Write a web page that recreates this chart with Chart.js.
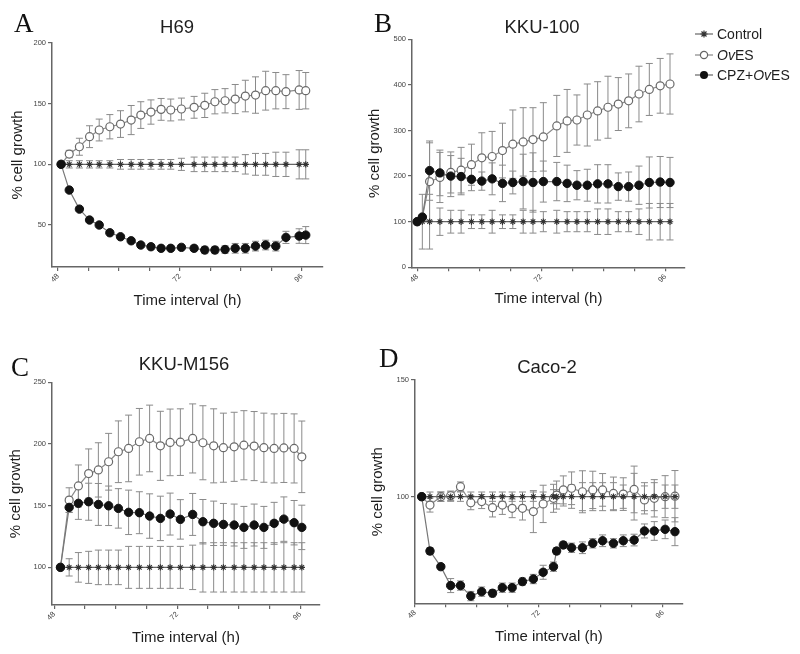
<!DOCTYPE html>
<html>
<head>
<meta charset="utf-8">
<script src="https://cdn.jsdelivr.net/npm/chart.js@4.4.0/dist/chart.umd.min.js"></script>
<style>
  body { margin: 0; background: #fff; }
  #page { position: relative; width: 800px; height: 654px; overflow: hidden; font-family: 'Liberation Sans', Arial, sans-serif; color: #1e1e1e; }
  canvas { position: absolute; }
  .letter { position: absolute; font-family: 'Liberation Serif', 'Times New Roman', serif; font-size: 27px; line-height: 27px; color: #111; }
  .ptitle { position: absolute; font-size: 18.5px; line-height: 1; transform: translate(-50%, -50%); white-space: nowrap; }
  .legend-row { position: absolute; left: 695px; height: 16px; display: flex; align-items: center; font-size: 14px; white-space: nowrap; }
  .legend-row svg { margin-right: 4px; }
</style>
</head>
<body>
<div id="page">
  <canvas id="chartA" width="355" height="320" style="left:0;top:0"></canvas>
  <canvas id="chartB" width="365" height="320" style="left:360px;top:0"></canvas>
  <canvas id="chartC" width="368" height="324" style="left:0;top:330px"></canvas>
  <canvas id="chartD" width="374" height="324" style="left:360px;top:330px"></canvas>

  <div class="letter" style="left:14px;top:10px">A</div>
  <div class="letter" style="left:374px;top:10px">B</div>
  <div class="letter" style="left:11px;top:354px">C</div>
  <div class="letter" style="left:379px;top:345px">D</div>

  <div class="ptitle" style="left:177px;top:27px">H69</div>
  <div class="ptitle" style="left:542px;top:27px">KKU-100</div>
  <div class="ptitle" style="left:184px;top:364px">KKU-M156</div>
  <div class="ptitle" style="left:547px;top:367px">Caco-2</div>

  <div class="legend-row" style="top:26px">
    <svg width="18" height="10"><line x1="0" y1="5" x2="18" y2="5" stroke="#666" stroke-width="1.2"/><path d="M9 1.5V8.5M5.5 5H12.5M6.5 2.5L11.5 7.5M11.5 2.5L6.5 7.5" stroke="#333" stroke-width="1.2"/></svg>
    <span>Control</span>
  </div>
  <div class="legend-row" style="top:47px">
    <svg width="18" height="10"><line x1="0" y1="5" x2="18" y2="5" stroke="#888" stroke-width="1.2"/><circle cx="9" cy="5" r="3.6" fill="#fff" stroke="#666" stroke-width="1.2"/></svg>
    <span><i>Ov</i>ES</span>
  </div>
  <div class="legend-row" style="top:67px">
    <svg width="18" height="10"><line x1="0" y1="5" x2="18" y2="5" stroke="#666" stroke-width="1.2"/><circle cx="9" cy="5" r="4" fill="#111"/></svg>
    <span>CPZ+<i>Ov</i>ES</span>
  </div>
</div>

<script>
// shared axis ticks (hours)
const xTickValues = [48, 54, 60, 66, 72, 78, 84, 90, 96];
const xTickLabels = [48, 72, 96];

// ---- A: H69 ----
const timesA = [48.6, 50.2, 52.2, 54.2, 56.1, 58.2, 60.3, 62.4, 64.3, 66.3, 68.3, 70.2, 72.3, 74.8, 76.9, 78.9, 80.9, 82.9, 84.9, 86.9, 88.9, 90.9, 92.9, 95.5, 96.8];
const controlA = [100, 100, 100, 100, 100, 100, 100, 100, 100, 100, 100, 100, 100, 100, 100, 100, 100, 100, 100, 100, 100, 100, 100, 100, 100];
const controlErrA = [0, 3, 3, 3, 3, 3, 4, 4, 4, 4, 4, 4, 5, 6, 6, 6, 6, 6, 8, 9, 9, 10, 10, 12, 12];
const ovesA = [100, 108.5, 114.5, 122.8, 128.3, 131, 133.2, 136.5, 140.6, 143.1, 145.3, 144.8, 145.6, 147, 148.6, 151.6, 152.4, 153.8, 156.3, 157.1, 160.7, 160.7, 159.9, 161.3, 160.7];
const ovesErrA = [0, 3, 7, 9, 9, 10, 11, 12, 11, 10, 9, 9, 9, 9, 10, 10, 10, 12, 13, 15, 16, 15, 14, 16, 15];
const cpzA = [100, 78.8, 63.1, 54.1, 50, 43.6, 40.3, 37, 33.5, 32.1, 30.8, 30.8, 31.6, 30.8, 29.4, 29.4, 29.8, 30.8, 30.8, 32.6, 33.5, 32.6, 39.8, 40.9, 41.7];
const cpzErrA = [0, 0, 0, 0, 0, 0, 0, 0, 1, 2, 1, 1, 2, 2, 3, 3, 3, 4, 4, 4, 4, 4, 5, 6, 7];
const yTicksA = [50, 100, 150, 200];

// ---- B: KKU-100 ----
const timesB = [48, 49, 50.4, 52.4, 54.5, 56.5, 58.5, 60.5, 62.5, 64.5, 66.5, 68.5, 70.4, 72.4, 75, 77, 78.9, 80.9, 82.9, 84.9, 86.9, 88.9, 90.9, 92.9, 95, 96.9];
const controlB = [100, 100, 100, 100, 100, 100, 100, 100, 100, 100, 100, 100, 100, 100, 100, 100, 100, 100, 100, 100, 100, 100, 100, 100, 100, 100];
const controlErrB = [0, 60, 60, 30, 25, 25, 15, 15, 25, 15, 15, 25, 25, 22, 25, 22, 22, 22, 28, 28, 22, 22, 28, 40, 40, 40];
const ovesB = [100, 110, 188, 197, 208, 213, 225, 240, 243, 256, 270, 275, 280, 286, 310, 321, 323, 334, 343, 351, 358, 365, 380, 390, 398, 402];
const ovesErrB = [0, 0, 85, 55, 45, 50, 45, 55, 55, 60, 75, 75, 70, 75, 67, 69, 55, 68, 64, 68, 58, 59, 61, 57, 60, 66];
const cpzB = [100, 110, 212, 207, 200, 199, 193, 189, 194, 184, 186, 188, 186, 188, 188, 184, 180, 180, 183, 183, 177, 177, 180, 186, 187, 186];
const cpzErrB = [0, 0, 65, 50, 45, 40, 25, 20, 35, 40, 25, 60, 65, 45, 42, 40, 32, 35, 42, 42, 30, 32, 42, 56, 56, 55];
const yTicksB = [0, 100, 200, 300, 400, 500];

// ---- C: KKU-M156 ----
const timesC = [49.2, 50.9, 52.7, 54.7, 56.6, 58.6, 60.5, 62.5, 64.6, 66.6, 68.7, 70.6, 72.6, 75.0, 77.0, 79.1, 81.0, 83.1, 85.0, 87.0, 88.9, 90.9, 92.8, 94.8, 96.3];
const controlC = [100, 100, 100, 100, 100, 100, 100, 100, 100, 100, 100, 100, 100, 100, 100, 100, 100, 100, 100, 100, 100, 100, 100, 100, 100];
const controlErrC = [0, 7, 12, 13, 14, 14, 14, 17, 17, 17, 17, 17, 17, 18, 20, 20, 20, 20, 20, 20, 20, 20, 20, 20, 20];
const ovesC = [100, 154.5, 166, 176, 179, 185.6, 193.7, 196.4, 201.8, 204.5, 198.5, 201.3, 201.5, 204.5, 201, 198.5, 197, 197.7, 199, 198.3, 197, 196.4, 196.8, 196.4, 189.6];
const ovesErrC = [0, 10, 17, 20, 22, 23, 25, 27, 27, 27, 28, 27, 27, 28, 30, 30, 28, 28, 28, 28, 28, 28, 28, 28, 29];
const cpzC = [100, 148.6, 151.9, 153.2, 151, 149.9, 147.8, 144.6, 144.3, 141.6, 139.7, 143.2, 138.9, 142.9, 137, 135.7, 134.8, 134.3, 132.4, 134.3, 132.4, 135.7, 139.1, 136.2, 132.4];
const cpzErrC = [0, 4, 13, 15, 17, 16, 16, 18, 17, 18, 18, 17, 16, 17, 18, 18, 17, 17, 17, 17, 17, 17, 18, 18, 18];
const yTicksC = [100, 150, 200, 250];

// ---- D: Caco-2 ----
const timesD = [49.3, 50.9, 53.0, 54.9, 56.8, 58.8, 60.9, 63.0, 64.9, 66.8, 68.8, 70.9, 72.8, 74.8, 75.4, 76.7, 78.3, 80.4, 82.4, 84.3, 86.4, 88.3, 90.4, 92.4, 94.3, 96.4, 98.3];
const controlD = [100, 100, 100, 100, 100, 100, 100, 100, 100, 100, 100, 100, 100, 100, 100, 100, 100, 100, 100, 100, 100, 100, 100, 100, 100, 100, 100];
const controlErrD = [0, 2, 2, 2, 2, 2, 2, 2, 2, 2, 2, 2, 2, 3, 3, 4, 5, 6, 6, 6, 6, 5, 10, 6, 6, 5, 5];
const ovesD = [100, 96.4, 100, 100.4, 104.3, 97.4, 97.9, 95.3, 96.4, 95, 95, 93.6, 96.9, 99.3, 100.7, 102.9, 103.6, 102.1, 102.9, 102.9, 101.4, 101.1, 103.1, 98.6, 99.3, 100, 100.2];
const ovesErrD = [0, 3, 2, 2, 2, 3, 3, 4, 4, 4, 5, 9, 8, 6, 6, 6, 7, 9, 8, 7, 7, 7, 10, 6, 8, 9, 11];
const cpzD = [100, 76.7, 70, 61.9, 61.9, 57.4, 59.3, 58.6, 61, 61, 63.6, 64.7, 67.6, 70, 76.7, 79.3, 78.1, 78.1, 80, 81.1, 80, 81.1, 81.4, 85.3, 85.3, 86, 85];
const cpzErrD = [0, 1.5, 1, 3, 2, 2, 2, 1.5, 2, 2, 1.5, 2, 3, 2, 1.5, 1.5, 2, 2.5, 2, 2.5, 2, 2.5, 2.5, 3, 4, 4, 6];
const yTicksD = [100, 150];

// draws mean +/- error whiskers from each dataset's `errors` array
const errorBars = {
    id: 'errorBars',
    beforeDatasetsDraw(chart) {
        const { ctx, scales: { x, y } } = chart;
        ctx.save();
        ctx.lineWidth = 1;
        ctx.strokeStyle = '#8a8a8a';
        chart.data.datasets.forEach(ds => {
            if (!ds.errors) return;
            ds.data.forEach((p, i) => {
                const e = ds.errors[i];
                if (!e) return;
                const px = x.getPixelForValue(p.x);
                const top = y.getPixelForValue(p.y + e);
                const bot = y.getPixelForValue(p.y - e);
                ctx.beginPath();
                ctx.moveTo(px, top); ctx.lineTo(px, bot);
                ctx.moveTo(px - 3.5, top); ctx.lineTo(px + 3.5, top);
                ctx.moveTo(px - 3.5, bot); ctx.lineTo(px + 3.5, bot);
                ctx.stroke();
            });
        });
        ctx.restore();
    }
};

function buildPanel(id, p) {
    const toPoints = vals => vals.map((v, i) => ({ x: p.times[i], y: v }));
    const axisColor = '#666';
    return new Chart(document.getElementById(id), {
        type: 'line',
        data: {
            datasets: [
                {
                    label: 'Control', data: toPoints(p.control), errors: p.controlErr,
                    borderColor: '#666', borderWidth: 1.2,
                    pointStyle: 'star', pointRadius: 3.2, pointBorderColor: '#333', pointBorderWidth: 1.1,
                    pointBackgroundColor: '#333', clip: 10, order: 1
                },
                {
                    label: 'OvES', data: toPoints(p.oves), errors: p.ovesErr,
                    borderColor: '#8a8a8a', borderWidth: 1.2,
                    pointRadius: 4, pointBackgroundColor: '#fff', pointBorderColor: '#6a6a6a',
                    pointBorderWidth: 1.2, clip: 10, order: 2
                },
                {
                    label: 'CPZ+OvES', data: toPoints(p.cpz), errors: p.cpzErr,
                    borderColor: '#777', borderWidth: 1.2,
                    pointRadius: 4.2, pointBackgroundColor: '#111', pointBorderColor: '#111',
                    pointBorderWidth: 1, clip: 10, order: 0
                }
            ]
        },
        options: {
            responsive: false,
            animation: false,
            layout: { padding: p.pad },
            plugins: { legend: { display: false }, tooltip: { enabled: false } },
            scales: {
                x: {
                    type: 'linear', min: p.xMin, max: p.xMax,
                    afterBuildTicks: s => { s.ticks = xTickValues.map(v => ({ value: v })); },
                    afterFit: s => { s.height = p.xH; },
                    ticks: {
                        autoSkip: false, minRotation: 45, maxRotation: 45, padding: 1,
                        font: { size: 7.5 }, color: '#444',
                        callback: v => xTickLabels.includes(v) ? String(v) : ''
                    },
                    grid: { drawOnChartArea: false, tickLength: 4, color: axisColor, lineWidth: 1.2 },
                    border: { color: axisColor, width: 1.5 },
                    title: {
                        display: true, text: 'Time interval (h)', color: '#1e1e1e',
                        font: { size: 15 }, padding: { top: 0, bottom: p.xTitlePad }
                    }
                },
                y: {
                    min: p.yMin, max: p.yMax,
                    afterBuildTicks: s => { s.ticks = p.yTicks.map(v => ({ value: v })); },
                    afterFit: s => { s.width = p.yW; },
                    ticks: { padding: 2, font: { size: 7.5 }, color: '#444' },
                    grid: { drawOnChartArea: false, tickLength: 4, color: axisColor, lineWidth: 1.2 },
                    border: { color: axisColor, width: 1.5 },
                    title: {
                        display: true, text: '% cell growth', color: '#1e1e1e',
                        font: { size: 15 }, padding: { top: p.yTitlePad, bottom: 0 }
                    }
                }
            }
        },
        plugins: [errorBars]
    });
}

buildPanel('chartA', {
    times: timesA, control: controlA, controlErr: controlErrA, oves: ovesA, ovesErr: ovesErrA,
    cpz: cpzA, cpzErr: cpzErrA, yTicks: yTicksA,
    xMin: 46.8, xMax: 100.2, yMin: 15.4, yMax: 200,
    pad: { top: 43, right: 32, left: 0, bottom: 0 }, yW: 52, xH: 53, yTitlePad: 8.5, xTitlePad: 10.6
});
buildPanel('chartB', {
    times: timesB, control: controlB, controlErr: controlErrB, oves: ovesB, ovesErr: ovesErrB,
    cpz: cpzB, cpzErr: cpzErrB, yTicks: yTicksB,
    xMin: 47, xMax: 99.8, yMin: 0, yMax: 500,
    pad: { top: 39.3, right: 40, left: 0, bottom: 0 }, yW: 52, xH: 52.7, yTitlePad: 6, xTitlePad: 12.6
});
buildPanel('chartC', {
    times: timesC, control: controlC, controlErr: controlErrC, oves: ovesC, ovesErr: ovesErrC,
    cpz: cpzC, cpzErr: cpzErrC, yTicks: yTicksC,
    xMin: 47.55, xMax: 99.85, yMin: 69.5, yMax: 250,
    pad: { top: 52.3, right: 48, left: 0, bottom: 0 }, yW: 52, xH: 49, yTitlePad: 6.5, xTitlePad: 7.6
});
buildPanel('chartD', {
    times: timesD, control: controlD, controlErr: controlErrD, oves: ovesD, ovesErr: ovesErrD,
    cpz: cpzD, cpzErr: cpzErrD, yTicks: yTicksD,
    xMin: 48, xMax: 99.8, yMin: 54.3, yMax: 150,
    pad: { top: 50, right: 51.3, left: 0, bottom: 0 }, yW: 55, xH: 50.7, yTitlePad: 9, xTitlePad: 8.6
});
</script>
</body>
</html>
